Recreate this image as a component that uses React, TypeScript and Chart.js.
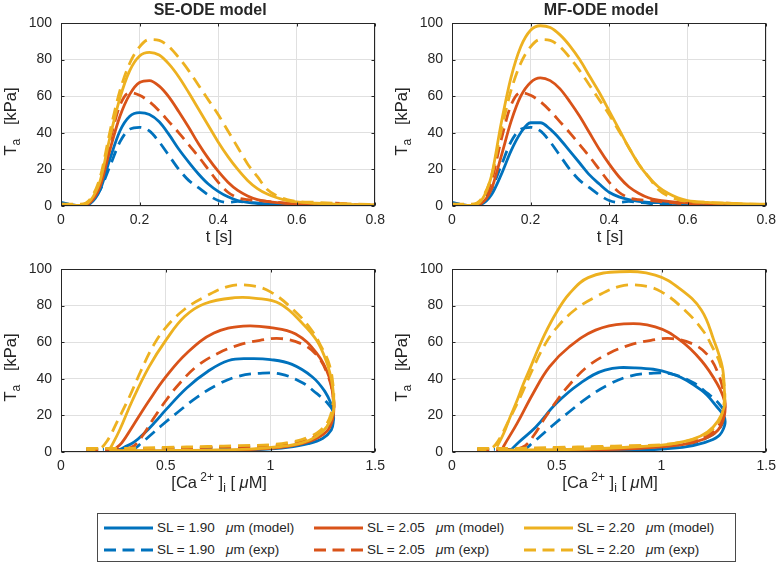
import React, { useEffect, useRef } from 'react';
import { Chart, registerables } from 'chart.js';

Chart.register(...registerables);

// ---------- colours & fonts ----------
const BLUE = '#0072BD';
const ORANGE = '#D95319';
const YELLOW = '#EDB120';
const FONT = '"Liberation Sans", Arial, Helvetica, sans-serif';
const AXIS_COLOR = '#262626';
const GRID_COLOR = '#e0e0e0';

// ---------- titles / legend text ----------
const TITLES = ['SE-ODE model', 'MF-ODE model'];
const SL_VALUES = ['1.90', '2.05', '2.20'];
const SERIES_COLORS = [BLUE, ORANGE, YELLOW];

// ---------- time-course data (top row) ----------
const TIME_S = [0, 0.025, 0.05, 0.075, 0.1, 0.125, 0.15, 0.175, 0.2, 0.225, 0.25, 0.275, 0.3, 0.325, 0.35, 0.375, 0.4, 0.425, 0.45, 0.475, 0.5, 0.525, 0.55, 0.575, 0.6, 0.65, 0.7, 0.75, 0.8];

const EXP_T_190 = [1.5, 0.8, 0.5, 2, 9, 22, 35, 42, 43, 41, 35, 27.5, 20, 14, 10, 6, 3, 2, 2.5, 2, 1.5, 1.2, 1, 0.8, 0.7, 0.6, 0.5, 0.4, 0.3];
const EXP_T_205 = [1, 0.8, 0.6, 3, 13, 36, 55, 62, 60.5, 57, 52, 46, 40, 33.5, 27, 20, 13, 7.5, 4.5, 3.5, 3, 2.5, 2, 1.5, 1.2, 1, 1.5, 0.8, 0.5];
const EXP_T_220 = [1, 1, 1, 4, 16, 41, 63, 78, 87, 91, 90.5, 87, 81, 74, 66, 58, 50, 41, 32, 23, 16, 9, 5.5, 3.5, 2.5, 2, 1.5, 1, 0.8];

const SE_T_190 = [2, 0.8, 0.3, 1.5, 9, 26, 41, 49, 51, 50, 46, 39, 31, 24, 17.5, 12, 8, 5, 3, 2, 1.5, 1.2, 1, 0.8, 0.6, 0.5, 0.4, 0.3, 0.3];
const SE_T_205 = [1, 0.5, 0.3, 2, 11, 31, 49, 61, 67.5, 68.5, 65.5, 59.5, 51.5, 43, 34, 26, 19, 13, 8.5, 5.5, 3.5, 2.5, 1.8, 1.4, 1.1, 0.8, 0.6, 0.5, 0.5];
const SE_T_220 = [1, 0.5, 0.3, 3, 14, 38, 59, 74, 82, 84, 82.5, 77.5, 70.5, 62, 53, 44, 35, 27, 20, 14, 9.5, 6.5, 4.5, 3, 2.2, 1.5, 1, 0.8, 0.6];

const MF_T_190 = [2, 0.8, 0.3, 1, 6, 17, 30, 40, 45.5, 45.5, 42, 36.5, 30, 23.5, 17, 12, 7.5, 5, 3.5, 2.5, 2, 1.8, 1.5, 1.3, 1.2, 1, 0.8, 0.7, 0.6];
const MF_T_205 = [1, 0.5, 0.3, 1.5, 9, 27, 46, 60, 67.5, 70, 68.5, 64, 57, 49, 40, 31, 23, 16, 10.5, 7, 4.5, 3.2, 2.5, 2, 1.7, 1.3, 1, 0.8, 0.7];
const MF_T_220 = [1, 0.5, 0.3, 3, 16, 45, 70, 87, 96, 98.5, 97.5, 93.5, 87.5, 80, 71, 62, 52, 42, 32, 23, 16, 10.5, 7, 4.5, 3, 2, 1.5, 1.2, 1];

// ---------- Ca - tension loops (bottom row) ----------
const EXP_CA_190 = [0.12, 0.3, 0.5, 0.7, 0.9, 1.05, 1.15, 1.22, 1.27, 1.3, 1.3, 1.27, 1.22, 1.15, 1.05, 0.95, 0.85, 0.75, 0.65, 0.56, 0.48, 0.42, 0.38, 0.35, 0.3, 0.2];
const EXP_TA_190 = [1.5, 1.5, 1.8, 2, 2.5, 3.5, 5, 8, 12, 18, 22, 27, 32, 38, 42.5, 43, 41.5, 37, 30, 22, 14.5, 8.5, 4.5, 2, 1.5, 1.5];
const EXP_CA_205 = [0.12, 0.3, 0.5, 0.7, 0.9, 1.05, 1.15, 1.22, 1.27, 1.3, 1.3, 1.27, 1.22, 1.15, 1.05, 0.95, 0.85, 0.75, 0.65, 0.57, 0.5, 0.44, 0.39, 0.35, 0.3, 0.2];
const EXP_TA_205 = [1, 1.5, 2, 2.5, 3, 4, 6, 9, 14, 22, 30, 43, 53, 59, 62, 61, 58.5, 54, 47, 38, 28, 18, 9, 3.5, 1.5, 1];
const EXP_CA_220 = [0.12, 0.3, 0.5, 0.7, 0.85, 1.0, 1.1, 1.18, 1.24, 1.28, 1.3, 1.3, 1.28, 1.24, 1.2, 1.12, 1.0, 0.9, 0.8, 0.69, 0.59, 0.5, 0.44, 0.38, 0.33, 0.27, 0.22, 0.18, 0.12];
const EXP_TA_220 = [2, 2, 2.5, 3, 3.5, 4, 5.5, 8, 12, 18, 28, 35, 48, 58, 66, 76.5, 87.5, 91, 90.5, 85, 78, 68, 58, 44, 31, 17, 6, 1.5, 1.5];

const SE_CA_190 = [0.27, 0.4, 0.6, 0.8, 0.95, 1.08, 1.18, 1.25, 1.29, 1.3, 1.3, 1.29, 1.26, 1.2, 1.1, 1.0, 0.9, 0.8, 0.7, 0.6, 0.5, 0.45, 0.4, 0.35, 0.3, 0.27];
const SE_TA_190 = [0.5, 0.4, 0.5, 0.8, 1.3, 2.5, 4.5, 7.5, 12, 17, 21, 26, 33, 41, 48, 50.5, 51, 50, 44, 35, 23, 16.5, 10.5, 5.5, 2.5, 0.8];
const SE_CA_205 = [0.25, 0.5, 0.7, 0.9, 1.05, 1.15, 1.23, 1.28, 1.3, 1.3, 1.28, 1.22, 1.12, 1.0, 0.87, 0.73, 0.6, 0.5, 0.42, 0.34, 0.29, 0.25];
const SE_TA_205 = [0.5, 0.5, 0.8, 1.3, 2.5, 4.5, 8, 13, 20, 28, 41, 54, 64.5, 68, 68.8, 65, 54, 41, 28, 13.7, 5, 1];
const SE_CA_220 = [0.23, 0.5, 0.7, 0.9, 1.05, 1.15, 1.22, 1.27, 1.3, 1.3, 1.29, 1.265, 1.22, 1.155, 1.045, 0.93, 0.83, 0.685, 0.59, 0.5, 0.42, 0.34, 0.28, 0.24, 0.23];
const SE_TA_220 = [0.8, 0.8, 1, 1.6, 3, 5, 8.5, 14, 22, 32, 40, 50, 61, 70, 81, 84, 84.3, 81, 74, 61, 46.5, 28, 12, 3, 1];

const MF_CA_190 = [0.28, 0.6, 0.9, 1.1, 1.2, 1.27, 1.3, 1.3, 1.265, 1.19, 1.045, 0.87, 0.73, 0.61, 0.497, 0.4, 0.32, 0.28];
const MF_TA_190 = [0.3, 0.5, 1, 2.5, 5, 8.5, 14, 19, 24.6, 33.8, 42.9, 46, 44.7, 37.4, 26.5, 13.7, 5.5, 1];
const MF_CA_205 = [0.25, 0.6, 0.9, 1.1, 1.2, 1.27, 1.3, 1.3, 1.265, 1.19, 1.09, 0.97, 0.82, 0.685, 0.56, 0.465, 0.387, 0.31, 0.246, 0.24];
const MF_TA_205 = [0.5, 1, 2, 4, 7, 12, 20, 28, 37.4, 50, 61, 68.4, 70, 66.6, 57.5, 46.5, 32, 15.5, 3, 1];
const MF_CA_220 = [0.22, 0.6, 0.9, 1.05, 1.15, 1.22, 1.27, 1.3, 1.3, 1.29, 1.25, 1.19, 1.09, 0.97, 0.8, 0.65, 0.56, 0.497, 0.45, 0.41, 0.37, 0.34, 0.31, 0.277, 0.246, 0.215];
const MF_TA_220 = [1, 1.5, 3, 4.5, 7, 11, 17, 25, 33.8, 46.5, 61, 77.6, 89, 96.7, 98.5, 95.3, 86.5, 76, 66, 56, 45, 37, 28, 19, 10, 3];

// ---------- helpers ----------
type Seg = { t: string; size: number; dy?: number; italic?: boolean; bold?: boolean };

const LABEL_SIZE = 16.5;
const X_LABEL_TIME: Seg[] = [{ t: 't [s]', size: LABEL_SIZE }];
const X_LABEL_CA: Seg[] = [
  { t: '[Ca', size: LABEL_SIZE },
  { t: ' 2+', size: 12, dy: -7 },
  { t: ' ]', size: LABEL_SIZE },
  { t: 'i', size: 12, dy: 4 },
  { t: ' [ ', size: LABEL_SIZE },
  { t: 'μ', size: LABEL_SIZE, italic: true },
  { t: 'M]', size: LABEL_SIZE },
];
const Y_LABEL: Seg[] = [
  { t: 'T', size: LABEL_SIZE },
  { t: 'a', size: 12, dy: 4 },
  { t: '   [kPa]', size: LABEL_SIZE },
];

function segFont(s: Seg) {
  return `${s.italic ? 'italic ' : ''}${s.bold ? 'bold ' : ''}${s.size}px ${FONT}`;
}

function drawRich(ctx: CanvasRenderingContext2D, segs: Seg[], cx: number, y: number) {
  let total = 0;
  for (const s of segs) {
    ctx.font = segFont(s);
    total += ctx.measureText(s.t).width;
  }
  let x = cx - total / 2;
  ctx.textAlign = 'left';
  ctx.textBaseline = 'alphabetic';
  for (const s of segs) {
    ctx.font = segFont(s);
    ctx.fillText(s.t, x, y + (s.dy || 0));
    x += ctx.measureText(s.t).width;
  }
}

function makeFramePlugin(title: string | null, xLabel: Seg[]) {
  return {
    id: 'matlabFrame',
    afterDatasetsDraw(chart: any) {
      const { ctx, chartArea: a, scales } = chart;
      const l = Math.round(a.left) + 0.5;
      const r = Math.round(a.right) - 0.5;
      const t = Math.round(a.top) + 0.5;
      const b = Math.round(a.bottom) - 0.5;
      ctx.save();
      ctx.strokeStyle = AXIS_COLOR;
      ctx.lineWidth = 1;
      ctx.strokeRect(l, t, r - l, b - t);
      ctx.beginPath();
      const tl = 3;
      scales.x.ticks.forEach((tk: any) => {
        const px = Math.round(scales.x.getPixelForValue(tk.value)) + 0.5;
        ctx.moveTo(px, b); ctx.lineTo(px, b - tl);
        ctx.moveTo(px, t); ctx.lineTo(px, t + tl);
      });
      scales.y.ticks.forEach((tk: any) => {
        const py = Math.round(scales.y.getPixelForValue(tk.value)) + 0.5;
        ctx.moveTo(l, py); ctx.lineTo(l + tl, py);
        ctx.moveTo(r, py); ctx.lineTo(r - tl, py);
      });
      ctx.stroke();
      ctx.restore();
    },
    afterDraw(chart: any) {
      const { ctx, chartArea: a } = chart;
      ctx.save();
      ctx.fillStyle = AXIS_COLOR;
      const cx = (a.left + a.right) / 2;
      if (title) {
        ctx.font = `bold 16px ${FONT}`;
        ctx.textAlign = 'center';
        ctx.textBaseline = 'alphabetic';
        ctx.fillText(title, cx - 8, 15);
      }
      drawRich(ctx, xLabel, cx + 1, a.bottom + 36);
      ctx.translate(15.5, (a.top + a.bottom) / 2 + 7);
      ctx.rotate(-Math.PI / 2);
      drawRich(ctx, Y_LABEL, 0, 0);
      ctx.restore();
    },
  };
}

function lineDs(xs: number[], ys: number[], color: string, dashed: boolean, monotone: boolean) {
  return {
    data: xs.map((x, i) => ({ x, y: ys[i] })),
    borderColor: color,
    backgroundColor: color,
    borderWidth: 2.8,
    borderDash: dashed ? [12, 7] : [],
    borderCapStyle: 'butt',
    borderJoinStyle: 'round',
    pointRadius: 0,
    showLine: true,
    fill: false,
    tension: monotone ? 0 : 0.4,
    cubicInterpolationMode: monotone ? 'monotone' : 'default',
  };
}

function makeConfig(datasets: any[], xMax: number, xStep: number, height: number, title: string | null, xLabel: Seg[]) {
  const tickFont = { family: FONT, size: 14 };
  return {
    type: 'scatter',
    data: { datasets },
    options: {
      responsive: false,
      animation: false,
      devicePixelRatio: 1,
      events: [],
      layout: { padding: { top: 23, right: 11, left: 0, bottom: 0 } },
      plugins: { legend: { display: false }, tooltip: { enabled: false }, title: { display: false } },
      scales: {
        x: {
          type: 'linear',
          min: 0,
          max: xMax,
          ticks: {
            stepSize: xStep,
            color: AXIS_COLOR,
            font: tickFont,
            padding: 6,
            maxRotation: 0,
            autoSkip: false,
            callback: (v: number) => String(Math.round(v * 100) / 100),
          },
          grid: { color: GRID_COLOR, lineWidth: 1, drawTicks: false },
          border: { display: false },
          afterFit: (s: any) => { s.height = height - 206; },
        },
        y: {
          type: 'linear',
          min: 0,
          max: 100,
          ticks: {
            stepSize: 20,
            color: AXIS_COLOR,
            font: tickFont,
            padding: 9,
            autoSkip: false,
            callback: (v: number) => String(v),
          },
          grid: { color: GRID_COLOR, lineWidth: 1, drawTicks: false },
          border: { display: false },
          afterFit: (s: any) => { s.width = 61; },
        },
      },
    },
    plugins: [makeFramePlugin(title, xLabel)],
  };
}

function timeDatasets(m190: number[], m205: number[], m220: number[]) {
  return [
    lineDs(TIME_S, EXP_T_220, YELLOW, true, true),
    lineDs(TIME_S, m220, YELLOW, false, true),
    lineDs(TIME_S, EXP_T_205, ORANGE, true, true),
    lineDs(TIME_S, m205, ORANGE, false, true),
    lineDs(TIME_S, EXP_T_190, BLUE, true, true),
    lineDs(TIME_S, m190, BLUE, false, true),
  ];
}

function loopDatasets(c190: number[], t190: number[], c205: number[], t205: number[], c220: number[], t220: number[]) {
  return [
    lineDs(EXP_CA_220, EXP_TA_220, YELLOW, true, false),
    lineDs(c220, t220, YELLOW, false, false),
    lineDs(EXP_CA_205, EXP_TA_205, ORANGE, true, false),
    lineDs(c205, t205, ORANGE, false, false),
    lineDs(EXP_CA_190, EXP_TA_190, BLUE, true, false),
    lineDs(c190, t190, BLUE, false, false),
  ];
}

const W = 391;
const H_TOP = 246;
const H_BOT = 262;

export default function App() {
  const tl = useRef<HTMLCanvasElement>(null);
  const tr = useRef<HTMLCanvasElement>(null);
  const bl = useRef<HTMLCanvasElement>(null);
  const br = useRef<HTMLCanvasElement>(null);

  useEffect(() => {
    const charts: Chart[] = [];
    charts.push(new Chart(tl.current as any, makeConfig(timeDatasets(SE_T_190, SE_T_205, SE_T_220), 0.8, 0.2, H_TOP, TITLES[0], X_LABEL_TIME) as any));
    charts.push(new Chart(tr.current as any, makeConfig(timeDatasets(MF_T_190, MF_T_205, MF_T_220), 0.8, 0.2, H_TOP, TITLES[1], X_LABEL_TIME) as any));
    charts.push(new Chart(bl.current as any, makeConfig(loopDatasets(SE_CA_190, SE_TA_190, SE_CA_205, SE_TA_205, SE_CA_220, SE_TA_220), 1.5, 0.5, H_BOT, null, X_LABEL_CA) as any));
    charts.push(new Chart(br.current as any, makeConfig(loopDatasets(MF_CA_190, MF_TA_190, MF_CA_205, MF_TA_205, MF_CA_220, MF_TA_220), 1.5, 0.5, H_BOT, null, X_LABEL_CA) as any));
    return () => charts.forEach((c) => c.destroy());
  }, []);

  const canvasStyle = (left: number, top: number, h: number): React.CSSProperties => ({
    position: 'absolute', left, top, width: W, height: h,
  });

  const legendText: React.CSSProperties = {
    position: 'absolute', fontFamily: FONT, fontSize: 13.5, lineHeight: '16px', color: AXIS_COLOR, whiteSpace: 'nowrap',
  };

  const items: React.ReactNode[] = [];
  SL_VALUES.forEach((sl, col) => {
    [false, true].forEach((dashed, row) => {
      const lineX = 104 + col * 210;
      const textX = 157 + col * 210;
      const cy = 528 + row * 22;
      items.push(
        <svg key={`l${col}${row}`} width={50} height={8} style={{ position: 'absolute', left: lineX, top: cy - 4 }}>
          <line x1={0} y1={4} x2={49} y2={4} stroke={SERIES_COLORS[col]} strokeWidth={2.8} strokeDasharray={dashed ? '12 6.5' : undefined} />
        </svg>,
        <span key={`a${col}${row}`} style={{ ...legendText, left: textX, top: cy - 8 }}>{`SL = ${sl}`}</span>,
        <span key={`b${col}${row}`} style={{ ...legendText, left: textX + 69, top: cy - 8 }}>
          <i>μ</i>{dashed ? 'm (exp)' : 'm (model)'}
        </span>
      );
    });
  });

  return (
    <div style={{ position: 'absolute', left: 0, top: 0, width: 782, height: 566, background: '#fff', overflow: 'hidden' }}>
      <canvas ref={tl} width={W} height={H_TOP} style={canvasStyle(0, 0, H_TOP)} />
      <canvas ref={tr} width={W} height={H_TOP} style={canvasStyle(391, 0, H_TOP)} />
      <canvas ref={bl} width={W} height={H_BOT} style={canvasStyle(0, 246, H_BOT)} />
      <canvas ref={br} width={W} height={H_BOT} style={canvasStyle(391, 246, H_BOT)} />
      <div style={{ position: 'absolute', left: 97, top: 513, width: 637, height: 47, border: '1px solid #4a4a4a', background: '#fff' }} />
      {items}
    </div>
  );
}
